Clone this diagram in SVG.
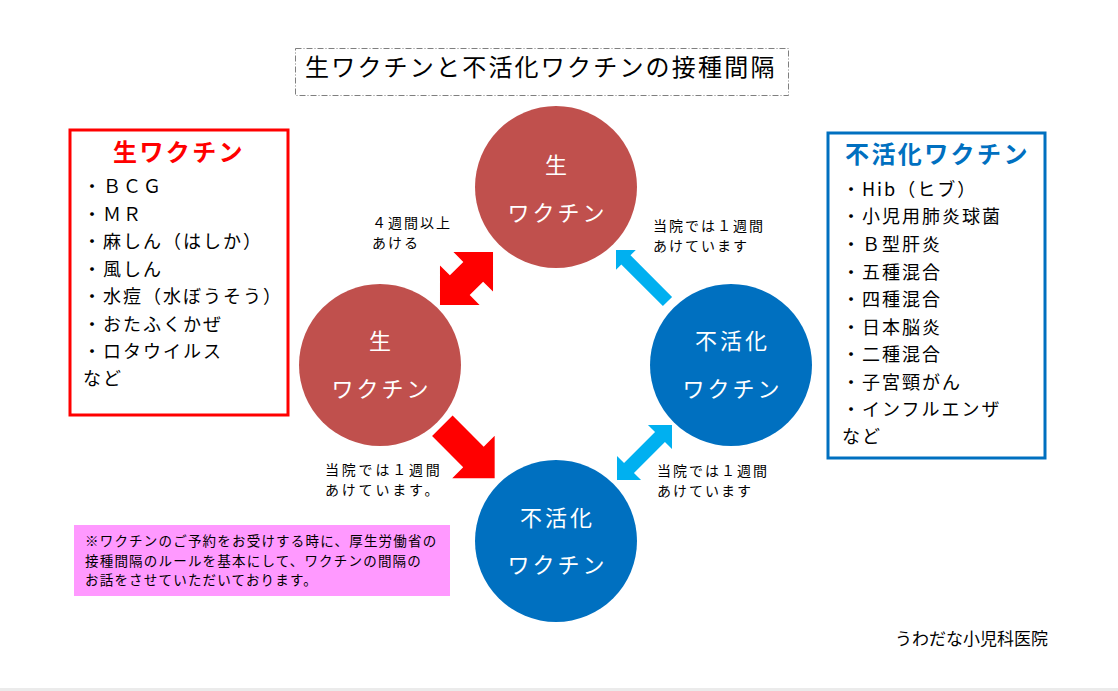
<svg xmlns="http://www.w3.org/2000/svg" width="1118" height="691" viewBox="0 0 1118 691">
<defs>
<style>
text{font-family:"Noto Sans CJK JP","Noto Sans",sans-serif;}
.title{font-size:24px;letter-spacing:2.2px;fill:#000;}
.boxtitle{font-size:24px;font-weight:bold;letter-spacing:2.4px;}
.item{font-size:18px;letter-spacing:2px;fill:#000;}
.circ{font-size:22px;fill:#fff;letter-spacing:3px;text-anchor:middle;}
.lbl{font-size:14px;letter-spacing:2px;fill:#000;}
.note{font-size:13.5px;letter-spacing:1.2px;fill:#000;}
.red{fill:#c0504d;}
.blue{fill:#0070c0;}
</style>
</defs>
<rect width="1118" height="691" fill="#fff"/>
<rect x="0" y="688" width="1118" height="3" fill="#ebebeb"/>

<g id="title">
<rect x="295.5" y="48.5" width="493" height="47" fill="none" stroke="#7f7f7f" stroke-width="1" stroke-dasharray="6 2 1 2"/>
<text class="title" x="305" y="76">生ワクチンと不活化ワクチンの接種間隔</text>
</g>

<g id="live-list">
<rect x="70" y="130" width="218" height="285" fill="#fff" stroke="#ff0000" stroke-width="3"/>
<text class="boxtitle" x="113" y="161" fill="#ff0000">生ワクチン</text>
<text class="item" x="83" y="193">・ＢＣＧ</text>
<text class="item" x="83" y="221">・ＭＲ</text>
<text class="item" x="83" y="248">・麻しん（はしか）</text>
<text class="item" x="83" y="276">・風しん</text>
<text class="item" x="83" y="303">・水痘（水ぼうそう）</text>
<text class="item" x="83" y="331">・おたふくかぜ</text>
<text class="item" x="83" y="358">・ロタウイルス</text>
<text class="item" x="83" y="385">など</text>
</g>

<g id="inactive-list">
<rect x="828" y="133" width="217" height="325" fill="#fff" stroke="#0070c0" stroke-width="3"/>
<text class="boxtitle" x="845" y="163" fill="#0070c0">不活化ワクチン</text>
<text class="item" x="842" y="196">・Hib（ヒブ）</text>
<text class="item" x="842" y="223">・小児用肺炎球菌</text>
<text class="item" x="842" y="251">・Ｂ型肝炎</text>
<text class="item" x="842" y="279">・五種混合</text>
<text class="item" x="842" y="306">・四種混合</text>
<text class="item" x="842" y="334">・日本脳炎</text>
<text class="item" x="842" y="361">・二種混合</text>
<text class="item" x="842" y="389">・子宮頸がん</text>
<text class="item" x="842" y="416">・インフルエンザ</text>
<text class="item" x="842" y="443">など</text>
</g>

<g id="connectors">
<polygon fill="#ff0000" transform="translate(466.5 278.5) rotate(-45)" points="37.5,0 9.5,-28 9.5,-14 -9.5,-14 -9.5,-28 -37.5,0 -9.5,28 -9.5,14 9.5,14 9.5,28"/>
<polygon fill="#ff0000" transform="translate(468.5 452) rotate(45)" points="37,0 7,-30 7,-14.5 -37,-14.5 -37,14.5 7,14.5 7,30"/>
<polygon fill="#00b0f0" transform="translate(641.75 275.75) rotate(-135)" points="36.4,0 22.4,-14 22.4,-6.5 -36.4,-6.5 -36.4,6.5 22.4,6.5 22.4,14"/>
<polygon fill="#00b0f0" transform="translate(644.5 452.5) rotate(-45)" points="38.9,0 21.9,-17 21.9,-7 -21.9,-7 -21.9,-17 -38.9,0 -21.9,17 -21.9,7 21.9,7 21.9,17"/>
</g>

<g id="live-top">
<circle class="red" cx="556" cy="187" r="81"/>
<text class="circ" x="557.5" y="173">生</text>
<text class="circ" x="557.5" y="221">ワクチン</text>
</g>
<g id="live-left">
<circle class="red" cx="380" cy="365" r="81"/>
<text class="circ" x="381.5" y="349">生</text>
<text class="circ" x="381.5" y="397">ワクチン</text>
</g>
<g id="inactive-right">
<circle class="blue" cx="731" cy="365" r="81"/>
<text class="circ" x="732.5" y="349">不活化</text>
<text class="circ" x="732.5" y="397">ワクチン</text>
</g>
<g id="inactive-bottom">
<circle class="blue" cx="556" cy="541" r="81"/>
<text class="circ" x="557.5" y="526">不活化</text>
<text class="circ" x="557.5" y="573">ワクチン</text>
</g>

<g id="labels">
<text class="lbl" x="372" y="228">４週間以上</text>
<text class="lbl" x="372" y="248">あける</text>
<text class="lbl" x="653" y="231">当院では１週間</text>
<text class="lbl" x="653" y="251">あけています</text>
<text class="lbl" x="325" y="475" style="letter-spacing:2.8px">当院では１週間</text>
<text class="lbl" x="325" y="495" style="letter-spacing:2.8px">あけています。</text>
<text class="lbl" x="657" y="476">当院では１週間</text>
<text class="lbl" x="657" y="496">あけています</text>
</g>

<g id="note">
<rect x="74" y="525" width="376" height="71" fill="#ff99ff"/>
<text class="note" x="85" y="546">※ワクチンのご予約をお受けする時に、厚生労働省の</text>
<text class="note" x="85" y="566">接種間隔のルールを基本にして、ワクチンの間隔の</text>
<text class="note" x="85" y="585">お話をさせていただいております。</text>
</g>

<g id="clinic">
<text x="895" y="645" style="font-size:17px;fill:#000;">うわだな小児科医院</text>
</g>
</svg>
